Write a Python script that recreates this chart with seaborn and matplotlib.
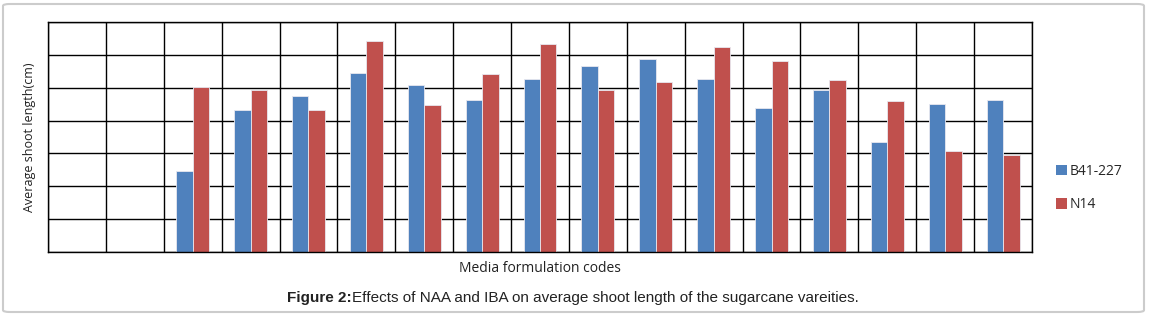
import numpy as np
import pandas as pd
import matplotlib
matplotlib.use("Agg")
import matplotlib.pyplot as plt
from matplotlib.patches import FancyBboxPatch, Patch
import seaborn as sns

# media formulation codes (no labels shown on the chart)
codes = ["M%d" % i for i in range(1, 18)]
varieties = ["B41-227", "N14"]
b41_227 = [np.nan, np.nan, 1.23, 2.16, 2.37, 2.72, 2.54, 2.31, 2.64, 2.83,
           2.93, 2.63, 2.19, 2.46, 1.68, 2.25, 2.31]
n14 = [np.nan, np.nan, 2.51, 2.46, 2.16, 3.21, 2.23, 2.71, 3.16, 2.46,
       2.59, 3.12, 2.91, 2.62, 2.30, 1.53, 1.47]
colors = ["#4F81BD", "#C0504D"]

df = pd.DataFrame({
    "code": codes * 2,
    "variety": [varieties[0]] * len(codes) + [varieties[1]] * len(codes),
    "length": b41_227 + n14,
})

sns.set_style("white")
plt.rcParams["font.family"] = ["Open Sans", "DejaVu Sans"]

fig = plt.figure(figsize=(11.49, 3.17), dpi=100)
ax = fig.add_axes([48 / 1149, 1 - 252 / 317, 984 / 1149, 230 / 317])

sns.barplot(data=df.dropna(), x="code", y="length", hue="variety",
            order=codes, hue_order=varieties, palette=colors,
            width=0.57, gap=0, edgecolor="#e8e8f0", linewidth=0.6,
            saturation=1, legend=False, ax=ax)

ax.set_ylim(0, 3.5)
ax.set_xlim(-0.5, len(codes) - 0.5)
ax.set_yticks(np.arange(0, 3.51, 0.5))
ax.set_xticks(np.arange(-0.5, len(codes), 1))
ax.tick_params(length=0, labelleft=False, labelbottom=False)
ax.grid(True, color="black", linewidth=1)
ax.set_axisbelow(True)
for s in ax.spines.values():
    s.set_color("black")
    s.set_linewidth(1)

ax.set_xlabel("")
ax.set_ylabel("")
fig.text(540 / 1149, 1 - 268 / 317, "Media formulation codes",
         ha="center", va="center", fontsize=10, color="#222222")
fig.text(30 / 1149, 1 - 137 / 317, "Average shoot length(cm)", rotation=90,
         ha="center", va="center", fontsize=9, color="#222222")

handles = [Patch(facecolor=c, edgecolor="none") for c in colors]
fig.legend(handles, varieties, loc="center left",
           bbox_to_anchor=(1043 / 1149, 1 - 188 / 317), frameon=False,
           fontsize=10, handlelength=0.8, handleheight=0.8,
           handletextpad=0.25, labelspacing=1.3)

# caption with bold prefix
cap_y = 1 - 298 / 317
t1 = fig.text(287 / 1149, cap_y, "Figure 2:", fontweight="bold",
              fontsize=11, family=["Liberation Sans"], va="center", color="#222222")
fig.canvas.draw()
bb = t1.get_window_extent()
fig.text(bb.x1 / fig.bbox.width, cap_y,
         "Effects of NAA and IBA on average shoot length of the sugarcane vareities.",
         fontsize=11, family=["Liberation Sans"], va="center", color="#222222")

fig.patches.append(FancyBboxPatch((3 / 1149, 5 / 317), 1141 / 1149, 308 / 317,
                                  boxstyle="round,pad=0,rounding_size=0.006",
                                  transform=fig.transFigure, facecolor="none",
                                  edgecolor="#cccccc", linewidth=1.5))

fig.savefig("out.png", dpi=100)
